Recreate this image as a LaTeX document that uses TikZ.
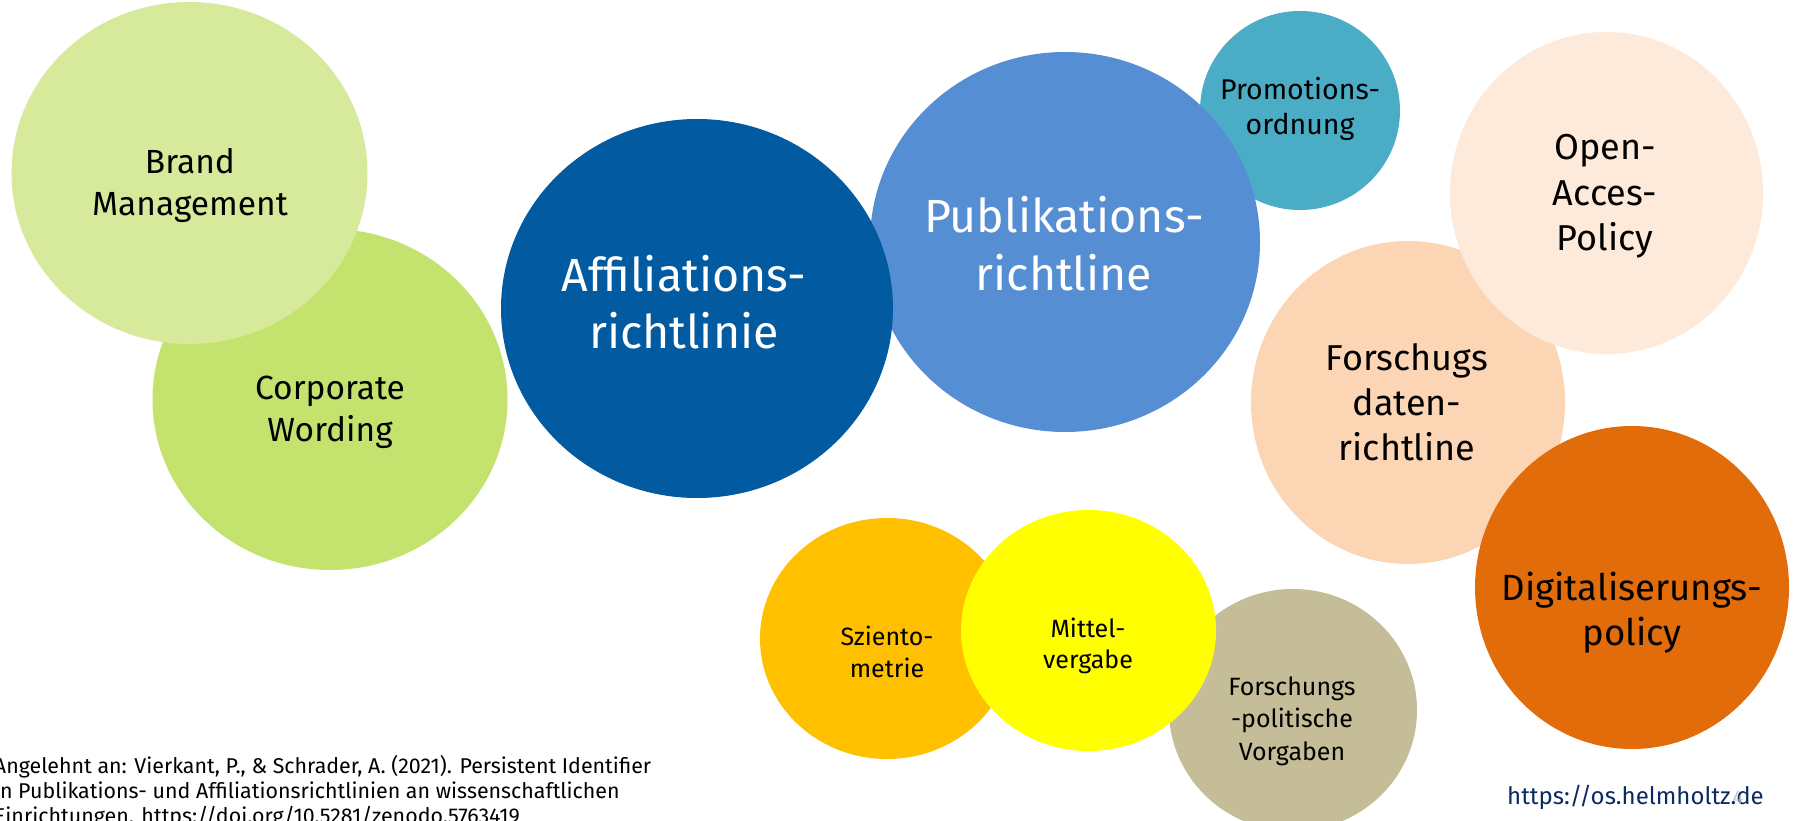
\documentclass[tikz,border=0pt]{standalone}
\usepackage{fontspec}
\setmainfont{Fira Sans}
\usetikzlibrary{shapes.geometric}
\definecolor{cBrand}{HTML}{D7EA9C}
\definecolor{cCorp}{HTML}{C3E26E}
\definecolor{cAff}{HTML}{025AA0}
\definecolor{cPub}{HTML}{568ED4}
\definecolor{cProm}{HTML}{4BACC6}
\definecolor{cOpen}{HTML}{FDEADA}
\definecolor{cFdr}{HTML}{FCD5B5}
\definecolor{cDig}{HTML}{E36C0A}
\definecolor{cSzi}{HTML}{FFC000}
\definecolor{cMit}{HTML}{FFFF00}
\definecolor{cFpv}{HTML}{C4BD97}
\definecolor{cUrl}{HTML}{0A2A62}
\definecolor{cPage}{HTML}{B4BCC4}
\begin{document}
\begin{tikzpicture}[x=1pt,y=-1pt,
  bubble/.style={ellipse, inner sep=0pt, outer sep=0pt, draw=none},
  lbl/.style={anchor=base, inner sep=0pt, outer sep=0pt},
  sXL/.style={font=\fontsize{46.5pt}{54pt}\selectfont},
  sL/.style={font=\fontsize{36.5pt}{43pt}\selectfont},
  sM/.style={font=\fontsize{36pt}{43pt}\selectfont},
  sB/.style={font=\fontsize{33.5pt}{40pt}\selectfont},
  sP/.style={font=\fontsize{28.5pt}{34pt}\selectfont},
  sS/.style={font=\fontsize{25pt}{30pt}\selectfont},
  sXS/.style={font=\fontsize{25pt}{30pt}\selectfont},
  cite/.style={anchor=base west, inner sep=0pt, outer sep=0pt, font=\fontsize{21.4pt}{25pt}\selectfont}]
\useasboundingbox (0,0) rectangle (1798,821);
\fill[white] (0,0) rectangle (1798,821);
% bubbles (back to front)
\node[bubble, fill=cCorp, minimum width=355pt, minimum height=341pt] (corp) at (330,399.5) {};
\node[bubble, fill=cBrand, minimum width=356pt, minimum height=342pt] (brand) at (189.5,173) {};
\node[bubble, fill=cProm, minimum width=200pt, minimum height=199pt] (prom) at (1300,110.5) {};
\node[bubble, fill=cPub, minimum width=390pt, minimum height=380pt] (pub) at (1065,242) {};
\node[bubble, fill=cAff, minimum width=392pt, minimum height=379pt] (aff) at (697,308.5) {};
\node[bubble, fill=cFdr, minimum width=314pt, minimum height=323pt] (fdr) at (1408,402.5) {};
\node[bubble, fill=cOpen, minimum width=313pt, minimum height=322pt] (open) at (1606.5,193) {};
\node[bubble, fill=cDig, minimum width=314pt, minimum height=323pt] (dig) at (1632,587.5) {};
\node[bubble, fill=cSzi, minimum width=254pt, minimum height=241pt] (szi) at (887,638.5) {};
\node[bubble, fill=cFpv, minimum width=248pt, minimum height=242pt] (fpv) at (1293,710) {};
\node[bubble, fill=cMit, minimum width=255pt, minimum height=241pt] (mit) at (1088.5,630.5) {};
% labels
\node[lbl, sB] (brand-1) at (190,174) {Brand};
\node[lbl, sB] (brand-2) at (190,215) {Management};
\node[lbl, sB] (corp-1) at (330,399) {Corporate};
\node[lbl, sB] (corp-2) at (330,441) {Wording};
\node[lbl, sXL, text=white] (aff-1) at (684,291) {Affiliations-};
\node[lbl, sXL, text=white] (aff-2) at (684,348) {richtlinie};
\node[lbl, sXL, text=white] (pub-1) at (1064,232) {Publikations-};
\node[lbl, sXL, text=white] (pub-2) at (1064,290) {richtline};
\node[lbl, sP] (prom-1) at (1300,100) {Promotions-};
\node[lbl, sP] (prom-2) at (1300,135) {ordnung};
\node[lbl, sM] (open-1) at (1605,160) {Open-};
\node[lbl, sM] (open-2) at (1605,205) {Acces-};
\node[lbl, sM] (open-3) at (1605,250) {Policy};
\node[lbl, sM] (fdr-1) at (1407,370) {Forschugs};
\node[lbl, sM] (fdr-2) at (1407,415) {daten-};
\node[lbl, sM] (fdr-3) at (1407,460) {richtline};
\node[lbl, sL] (dig-1) at (1632,600) {Digitaliserungs-};
\node[lbl, sL] (dig-2) at (1632,645) {policy};
\node[lbl, sS] (szi-1) at (887,645) {Sziento-};
\node[lbl, sS] (szi-2) at (887,677) {metrie};
\node[lbl, sS] (mit-1) at (1088,637) {Mittel-};
\node[lbl, sS] (mit-2) at (1088,668) {vergabe};
\node[lbl, sXS] (fpv-1) at (1292,695) {Forschungs};
\node[lbl, sXS] (fpv-2) at (1292,727.5) {-politische};
\node[lbl, sXS] (fpv-3) at (1292,760) {Vorgaben};
% citation
\node[cite] (cite-1) at (-6,773) {Angelehnt an: Vierkant, P., \& Schrader, A. (2021). Persistent Identifier};
\node[cite] (cite-2) at (-6,798) {in Publikations- und Affiliationsrichtlinien an wissenschaftlichen};
\node[cite] (cite-3) at (-6,823) {Einrichtungen. https://doi.org/10.5281/zenodo.5763419};
% url and page number
\node[anchor=base west, inner sep=0pt, text=cUrl, font=\fontsize{24pt}{28pt}\selectfont] (url) at (1507,804) {https://os.helmholtz.de};
\node[lbl, text=cPage, opacity=0.8, font=\fontsize{20pt}{24pt}\selectfont] (page) at (1738,804) {4};
\end{tikzpicture}
\end{document}
